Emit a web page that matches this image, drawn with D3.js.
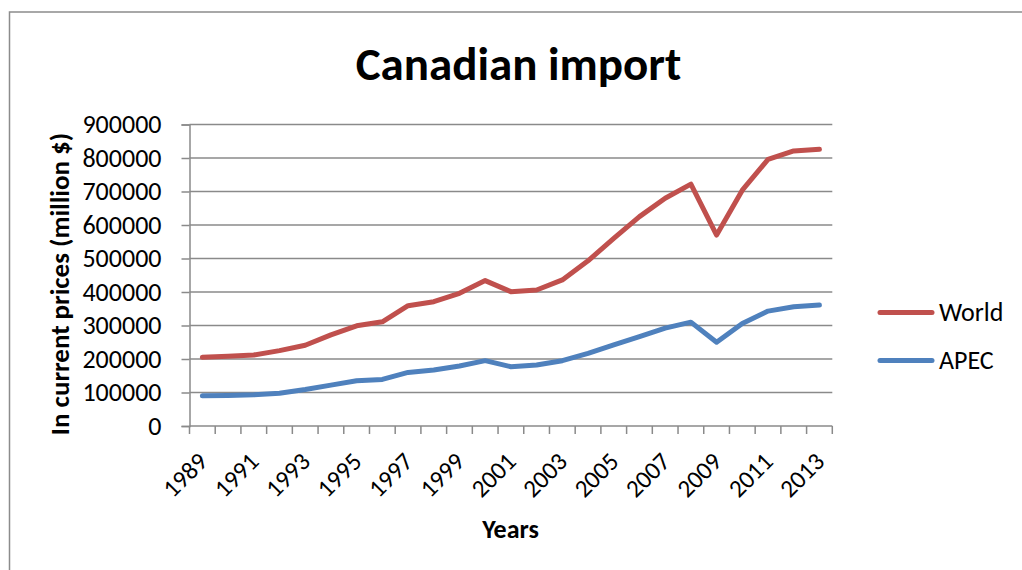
<!DOCTYPE html>
<html>
<head>
<meta charset="utf-8">
<script src="https://cdn.jsdelivr.net/npm/d3@7"></script>
<style>
  html, body { margin: 0; padding: 0; background: #fff; }
  svg { display: block; }
  text { font-family: Carlito, Lato, "Open Sans", sans-serif; fill: #000; }
</style>
</head>
<body>
<svg id="chart" width="1022" height="570"></svg>
<script>
const years = [1989,1990,1991,1992,1993,1994,1995,1996,1997,1998,1999,2000,2001,2002,2003,2004,2005,2006,2007,2008,2009,2010,2011,2012,2013];
const world = [205000,208000,212000,225000,241000,272000,299000,311000,359000,371000,396000,434000,401000,406000,436000,493000,560000,625000,680000,722000,570000,704000,796000,821000,826000];
const apec = [90000,91000,93000,98000,109000,122000,135000,139000,160000,167000,179000,195000,177000,182000,195000,217000,242000,267000,292000,310000,250000,306000,343000,356000,361000];
const yTicks = [0,100000,200000,300000,400000,500000,600000,700000,800000,900000];
const xLabelYears = [1989,1991,1993,1995,1997,1999,2001,2003,2005,2007,2009,2011,2013];
const seriesNames = ["World", "APEC"];
const seriesColors = ["#C0504D", "#4F81BD"];
const chartTitle = "Canadian import";
const yTitle = "In current prices (million $)";
const xTitle = "Years";

const svg = d3.select("#chart");
const pLeft = 189.5, pRight = 832.3, pTop = 124.5, pBottom = 426;

// outer chart border
svg.append("rect").attr("x", 9.5).attr("y", 12).attr("width", 1030).attr("height", 580)
  .attr("fill", "none").attr("stroke", "#8c8c8c").attr("stroke-width", 1.5);

const x = d3.scaleBand().domain(years).range([pLeft, pRight]).padding(0);
const y = d3.scaleLinear().domain([0, 900000]).range([pBottom, pTop]);
const cx = d => x(d) + x.bandwidth() / 2;

// gridlines
svg.append("g").selectAll("line").data(yTicks.slice(1)).join("line")
  .attr("x1", pLeft).attr("x2", pRight)
  .attr("y1", d => y(d)).attr("y2", d => y(d))
  .attr("stroke", "#8a8a8a").attr("stroke-width", 1.5);

// y axis
const yAxis = d3.axisLeft(y).tickValues(yTicks).tickSize(8).tickPadding(20).tickFormat(d3.format("d"));
const gy = svg.append("g").attr("transform", `translate(${pLeft},0)`).call(yAxis);
gy.select(".domain").attr("stroke", "#8a8a8a").attr("stroke-width", 1.5);
gy.selectAll(".tick line").attr("stroke", "#8a8a8a").attr("stroke-width", 1.5);
gy.selectAll(".tick text").attr("font-size", 26).attr("font-family", "Carlito, Lato, sans-serif").attr("fill", "#000");

// x axis
const xAxis = d3.axisBottom(x).tickSize(0).tickFormat("");
const gx = svg.append("g").attr("transform", `translate(0,${pBottom})`).call(xAxis);
gx.select(".domain").attr("stroke", "#8a8a8a").attr("stroke-width", 1.5).attr("d", `M${pLeft},0H${pRight}`);
gx.selectAll(".tick").remove();
// boundary ticks between categories
const bounds = years.map(d => x(d)).concat([pRight]);
svg.append("g").selectAll("line").data(bounds).join("line")
  .attr("x1", d => d).attr("x2", d => d)
  .attr("y1", pBottom).attr("y2", pBottom + 8)
  .attr("stroke", "#8a8a8a").attr("stroke-width", 1.5);

// x labels rotated
svg.append("g").selectAll("text").data(xLabelYears).join("text")
  .attr("transform", d => `translate(${cx(d) + 6.5},${pBottom + 37}) rotate(-45)`)
  .attr("text-anchor", "end")
  .attr("font-size", 25)
  .text(d => d);

// lines
const line = d3.line().x((d, i) => cx(years[i])).y(d => y(d));
[world, apec].forEach((s, i) => {
  svg.append("path").datum(s).attr("d", line)
    .attr("fill", "none").attr("stroke", seriesColors[i]).attr("stroke-width", 5)
    .attr("stroke-linejoin", "round").attr("stroke-linecap", "round");
});

// title
svg.append("text").attr("x", 518.5).attr("y", 80).attr("text-anchor", "middle")
  .attr("font-size", 47).attr("font-weight", "bold").text(chartTitle);

// axis titles
svg.append("text").attr("transform", `translate(69,284) rotate(-90)`).attr("text-anchor", "middle")
  .attr("font-size", 27).attr("font-weight", "bold").text(yTitle);
svg.append("text").attr("x", 510.5).attr("y", 538).attr("text-anchor", "middle")
  .attr("font-size", 26).attr("font-weight", "bold").text(xTitle);

// legend
const legY = [312.5, 360.5];
seriesNames.forEach((n, i) => {
  svg.append("line").attr("x1", 880).attr("x2", 932).attr("y1", legY[i]).attr("y2", legY[i])
    .attr("stroke", seriesColors[i]).attr("stroke-width", 5).attr("stroke-linecap", "round");
  svg.append("text").attr("x", 939).attr("y", legY[i] + 8.5).attr("font-size", 26).text(n);
});
</script>
</body>
</html>
